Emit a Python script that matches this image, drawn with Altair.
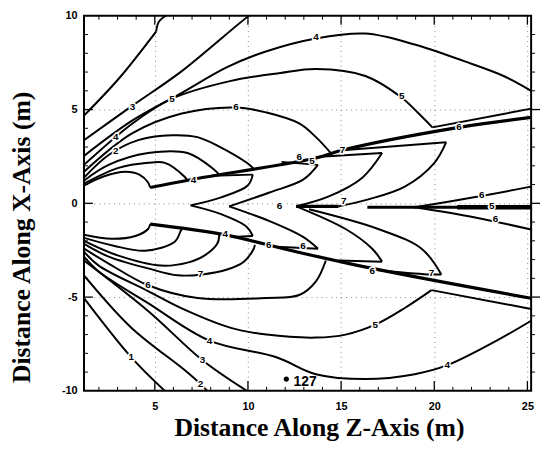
import altair as alt
import pandas as pd

# ---------------- contour pieces: (z, x) in metres ----------------
u1a = [(1.2, 4.68), (3.05, 6.63), (5.07, 9.16)]
u1b = [(5.07, 9.16), (5.22, 9.68), (5.60, 10.0)]
u2 = [(1.2, 3.37), (3.80, 5.21), (6.45, 7.05), (9.99, 9.95), (10.1, 10.0)]
u3 = [(1.2, 2.53), (3.80, 4.42), (6.45, 5.89), (8.88, 7.26), (11.0, 8.11), (13.65, 8.79),
      (16.30, 9.05), (18.95, 8.47), (21.60, 7.58), (23.72, 6.79), (25.2, 6.0)]
u4 = [(1.2, 2.05), (3.80, 4.26), (5.92, 5.58), (9.09, 6.53), (11.74, 6.95), (13.65, 7.16),
      (16.30, 6.79), (18.26, 5.63), (19.11, 4.84), (19.90, 4.05)]
u4_tail = [(19.90, 4.05), (25.2, 5.05)]
u5 = [(1.2, 1.68), (3.80, 3.74), (6.45, 4.79), (9.36, 5.11), (11.0, 4.84), (12.75, 4.26),
      (13.65, 3.53), (14.45, 2.68)]
u7 = [(1.2, 1.37), (2.52, 2.58), (4.11, 3.37), (5.92, 3.63), (7.29, 3.53), (8.51, 3.0),
      (9.94, 2.16), (10.31, 1.84)]
ub = [(1.2, 1.21), (2.52, 2.05), (4.64, 2.68), (6.76, 2.68), (8.19, 1.79), (8.46, 1.53)]
uc = [(1.2, 1.05), (3.05, 1.89), (4.64, 2.16), (5.54, 2.16), (6.60, 1.42), (6.76, 1.21)]
blob_up = [(1.2, 0.95), (2.21, 1.42), (3.43, 1.68), (4.17, 1.53), (4.64, 1.11), (4.75, 0.84)]
ridge_up = [(4.75, 0.84), (6.92, 1.26), (13.65, 2.42), (15.08, 2.84), (21.33, 4.05), (25.2, 4.58)]
blob_low = [(1.2, -1.68), (2.68, -1.89), (3.96, -1.74), (4.64, -1.37), (4.75, -1.11)]
ridge_low = [(4.75, -1.11), (8.78, -1.68), (12.59, -2.58), (16.67, -3.47), (25.2, -5.06)]

a_top = [(8.09, 1.47), (10.26, 1.53)]
a_up = [(10.26, 1.53), (9.99, 0.95), (8.56, 0.32), (6.92, -0.11)]
a_low = [(6.92, -0.11), (8.56, -0.58), (9.94, -1.26), (10.26, -1.74)]
a_bot = [(10.26, -1.74), (9.15, -1.79)]
b_top = [(11.80, 2.21), (13.76, 2.05)]
b_up = [(13.76, 2.05), (12.96, 1.26), (11.16, 0.58), (8.99, -0.16)]
b_low = [(8.99, -0.16), (11.16, -0.95), (12.96, -1.79), (13.76, -2.42)]
b_bot = [(13.76, -2.42), (11.53, -2.32)]
c_top = [(13.65, 2.47), (17.20, 2.68)]
c_up = [(17.20, 2.68), (16.14, 1.37), (14.34, 0.37), (12.59, -0.16)]
c_low = [(12.59, -0.16), (15.24, -1.37), (16.67, -2.42), (17.20, -3.11)]
c_bot = [(17.20, -3.11), (14.87, -3.05)]
d_top = [(15.24, 2.84), (20.64, 3.26)]
d_up = [(20.64, 3.26), (20.01, 2.16), (18.42, 0.89), (16.46, 0.21), (14.87, -0.16)]
d_low = [(13.28, -0.32), (16.99, -1.37), (19.32, -2.42), (20.38, -3.79)]
d_bot = [(20.38, -3.79), (19.64, -3.79), (16.67, -3.53)]

axis_a = [(12.59, -0.16), (14.87, -0.16)]
axis_b = [(16.41, -0.21), (25.2, -0.21)]
seg5 = [(21.23, -0.21), (25.2, -0.21)]
v_up = [(18.95, -0.21), (22.13, 0.32), (25.2, 0.89)]
v_low = [(18.95, -0.21), (22.13, -0.74), (25.2, -1.40)]

l7 = [(1.2, -2.16), (2.52, -2.84), (4.64, -3.47), (6.23, -3.84), (7.56, -3.79), (8.88, -3.53),
      (9.78, -3.11), (10.31, -2.42), (10.37, -2.21)]
lb = [(1.2, -2.0), (3.05, -2.79), (5.33, -3.32), (6.76, -3.16), (7.66, -2.79), (8.35, -2.16), (8.46, -1.68)]
lc = [(1.2, -1.84), (2.79, -2.26), (4.48, -2.53), (6.07, -2.05), (6.39, -1.47), (6.45, -1.37)]
l6 = [(1.2, -2.42), (2.52, -3.21), (4.64, -4.37), (7.29, -5.05), (11.0, -5.05), (12.75, -4.89),
      (13.65, -4.16), (14.18, -3.05)]
l5 = [(1.2, -2.58), (1.99, -3.32), (4.64, -4.68), (6.39, -5.58), (9.04, -6.63), (11.0, -7.0),
      (13.65, -7.16), (15.24, -7.0), (16.83, -6.47), (18.42, -5.58), (19.85, -4.63)]
l5_tail = [(19.85, -4.63), (25.2, -5.63)]
l4 = [(1.2, -2.84), (1.99, -3.63), (4.64, -5.32), (7.93, -7.32), (11.53, -8.21), (13.65, -9.11),
      (16.30, -9.37), (18.95, -9.11), (20.70, -8.63), (23.35, -7.32), (25.2, -6.26)]
l3 = [(1.2, -3.05), (4.64, -5.74), (7.56, -8.37), (9.94, -10.0)]
l2 = [(1.2, -3.84), (3.74, -6.63), (6.60, -8.89), (7.45, -9.63), (7.82, -10.0)]
l1 = [(1.2, -5.05), (3.74, -8.21), (5.54, -10.0)]

thin = [u1a, u1b, u2, u3, u4, u4_tail, u5, u7, ub, uc, blob_up, blob_low,
        a_top, a_up, a_low, a_bot, b_top, b_up, b_low, b_bot, c_top, c_up, c_low, c_bot,
        d_top, d_up, d_low, d_bot, v_up, v_low, l7, lb, lc, l6, l5, l5_tail, l4, l3, l2, l1]
thick = [ridge_up, ridge_low, axis_a, axis_b]
heavy = [seg5]

# contour labels
lab_z = [3.80, 5.92, 9.36, 13.65, 18.26, 21.33, 2.90, 2.90, 7.08, 12.75, 13.44, 15.08, 11.69,
         15.14, 22.55, 23.08, 23.29, 8.78, 11.11, 12.96, 16.67, 19.85, 7.45, 4.64, 16.83,
         7.93, 20.70, 7.56, 7.45, 3.74]
lab_x = [5.11, 5.58, 5.11, 8.89, 5.74, 4.05, 3.53, 2.79, 1.26, 2.47, 2.26, 2.84, -0.16,
         0.11, 0.42, -0.16, -0.84, -1.63, -2.21, -2.26, -3.63, -3.74, -3.79, -4.37, -6.47,
         -7.32, -8.63, -8.37, -9.63, -8.21]
lab_t = ["3", "5", "6", "4", "5", "6", "4", "2", "4", "6", "5", "7", "6",
         "7", "6", "5", "6", "4", "6", "6", "6", "7", "7", "6", "5",
         "4", "4", "3", "2", "1"]

point_z = [12.06]
point_x = [-9.37]
point_t = ["127"]
point_tz = [12.45]

x_ticks = [5, 10, 15, 20, 25]
y_ticks = [-10, -5, 0, 5, 10]
minor_z = list(range(2, 26))
minor_x = list(range(-9, 10))

# ---------------- tables ----------------
rows = []
for w, group in ((2.0, thin), (3.2, thick), (4.4, heavy)):
    for k, line in enumerate(group):
        for i, (z, x) in enumerate(line):
            rows.append({"name": f"{w}-{k}", "i": i, "z": z, "x": x, "w": w})
lines_df = pd.DataFrame(rows)
labels_df = pd.DataFrame({"z": lab_z, "x": lab_x, "t": lab_t})
pt_df = pd.DataFrame({"z": point_z, "x": point_x, "tz": point_tz, "t": point_t})
mz_df = pd.DataFrame({"z": minor_z, "major": [v % 5 == 0 for v in minor_z]})
mx_df = pd.DataFrame({"x": minor_x, "major": [v % 5 == 0 for v in minor_x]})

W, H = 453, 380
xs = alt.Scale(domain=[1.2, 25.2], nice=False, zero=False)
ys = alt.Scale(domain=[-10, 10], nice=False, zero=False)

x_axis = alt.Axis(values=x_ticks, grid=True, gridDash=[1, 4], gridColor="#555", gridOpacity=0.7,
                  ticks=False, domain=False, labelFont="Liberation Sans", labelFontWeight="bold",
                  labelFontSize=11, labelColor="black", labelPadding=10,
                  title="Distance Along Z-Axis (m)", titleFont="Liberation Serif",
                  titleFontSize=26, titleFontWeight="bold", titleColor="black",
                  titleX=238, titleY=37, titleBaseline="middle", titleAlign="center")
y_axis = alt.Axis(values=y_ticks, grid=True, gridDash=[1, 4], gridColor="#555", gridOpacity=0.7,
                  ticks=False, domain=False, labelFont="Liberation Sans", labelFontWeight="bold",
                  labelFontSize=11, labelColor="black", labelPadding=7,
                  labelExpr="'' + datum.value",
                  title="Distance Along X-Axis (m)", titleFont="Liberation Serif",
                  titleFontSize=26, titleFontWeight="bold", titleColor="black",
                  titleX=-63, titleY=224, titleBaseline="middle", titleAlign="center", titleAngle=270)

X = alt.X("z:Q", scale=xs, axis=x_axis)
Y = alt.Y("x:Q", scale=ys, axis=y_axis)

contours = alt.Chart(lines_df).mark_line(color="black", clip=True, strokeJoin="round",
                                         interpolate="catmull-rom").encode(
    x=X, y=Y, detail="name:N", order="i:Q",
    strokeWidth=alt.StrokeWidth("w:Q", scale=None),
)

halo = alt.Chart(labels_df).mark_text(font="Liberation Sans", fontWeight="bold", fontSize=10,
                                      stroke="white", strokeWidth=3, color="white").encode(
    x=X, y=Y, text="t:N")
labels = alt.Chart(labels_df).mark_text(font="Liberation Sans", fontWeight="bold", fontSize=10,
                                        color="black").encode(x=X, y=Y, text="t:N")

dot = alt.Chart(pt_df).mark_circle(color="black", size=28, opacity=1).encode(x=X, y=Y)
dot_text = alt.Chart(pt_df).mark_text(font="Liberation Sans", fontWeight="bold", fontSize=14,
                                      align="left", color="black", dy=3).encode(
    x=alt.X("tz:Q", scale=xs, axis=x_axis), y=Y, text="t:N")


def ticks_x(df, y0, y_minor, y_major):
    a = alt.Chart(df).transform_filter("!datum.major").mark_rule(color="black", strokeWidth=1).encode(
        x=X, y=alt.value(y0), y2=alt.value(y_minor))
    b = alt.Chart(df).transform_filter("datum.major").mark_rule(color="black", strokeWidth=1.3).encode(
        x=X, y=alt.value(y0), y2=alt.value(y_major))
    return a + b


def ticks_y(df, x0, x_minor, x_major):
    a = alt.Chart(df).transform_filter("!datum.major").mark_rule(color="black", strokeWidth=1).encode(
        y=Y, x=alt.value(x0), x2=alt.value(x_minor))
    b = alt.Chart(df).transform_filter("datum.major").mark_rule(color="black", strokeWidth=1.3).encode(
        y=Y, x=alt.value(x0), x2=alt.value(x_major))
    return a + b


tick_layers = (ticks_x(mz_df, H, H - 4, H - 10) + ticks_x(mz_df, 0, 4, 9)
               + ticks_y(mx_df, 0, 4, 9) + ticks_y(mx_df, W, W + 4, W + 9))

chart = alt.layer(contours, halo, labels, dot, dot_text, tick_layers).properties(
    width=W, height=H,
    autosize=alt.AutoSizeParams(type="none"),
    padding={"left": 77, "top": 5, "right": 10, "bottom": 55},
    background="white",
).configure_view(stroke="black", strokeWidth=2)

chart.save("out.html", embed_options={"renderer": "svg", "actions": False})
